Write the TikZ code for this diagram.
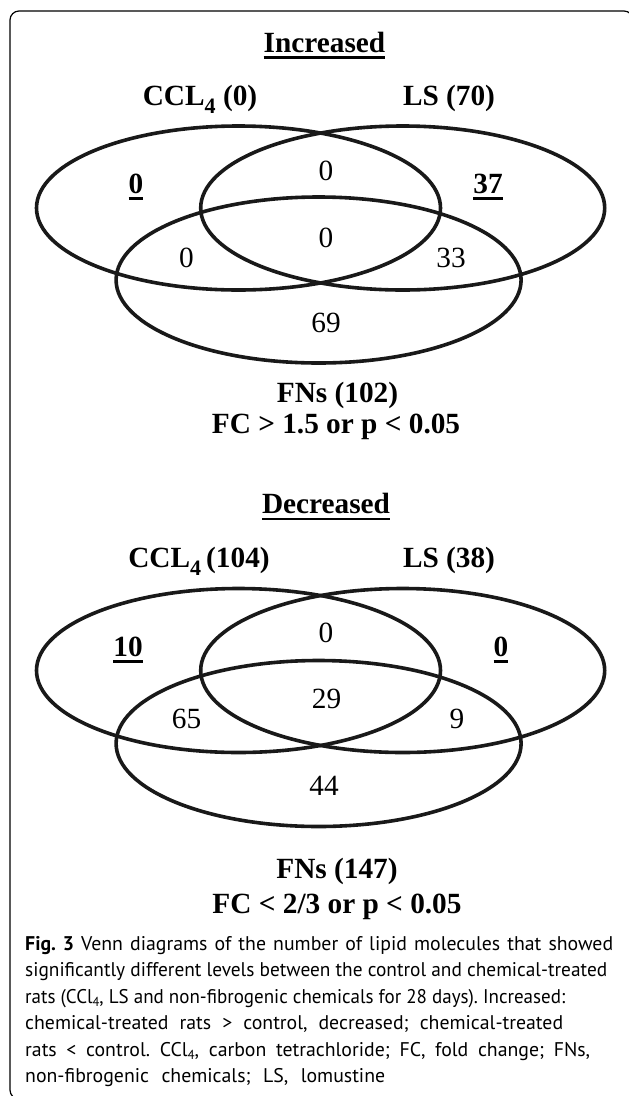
\documentclass[tikz,border=0pt]{standalone}
\usepackage{fontspec}
\setmainfont{Liberation Serif}
\newfontfamily\capfont{PT Sans}
\newcommand\ulx[1]{\setbox0\hbox{#1}\rlap{\vrule height -4.2pt depth 6.9pt width \wd0}\box0}
\newcommand\sfour{\raisebox{-8pt}{\fontsize{22}{22}\selectfont 4}}
\newcommand\csub{\raisebox{-3pt}{\fontsize{13}{13}\selectfont 4}}
\newcommand\capline[2]{\setbox0\hbox{#2}\ifdim\wd0>#1\resizebox{#1}{\height}{\box0}\else\hbox to #1{#2}\fi}
\frenchspacing
\begin{document}
\begin{tikzpicture}[x=1pt,y=-1pt,
  venn/.style={line width=3.6pt, black!90},
  lbl/.style={font=\fontsize{29.3}{32}\selectfont\bfseries, inner sep=0, anchor=base},
  num/.style={font=\fontsize{29.3}{32}\selectfont, inner sep=0, anchor=base},
  bnum/.style={font=\fontsize{29.3}{32}\selectfont\bfseries, inner sep=0, anchor=base},
  captxt/.style={font=\capfont\fontsize{19.8}{22}\selectfont\frenchspacing, inner sep=0, anchor=base west}]
\useasboundingbox (0,0) rectangle (629,1096);
\draw[line width=1.2pt, rounded corners=9pt] (10,11) rectangle (633,1099);
% ---------- Increased ----------
\node[lbl] (t1) at (324.5,52) {\ulx{Increased}};
\node[lbl] (a1) at (200,105) {CCL\sfour{} (0)};
\node[lbl] (b1) at (449,105) {LS (70)};
\draw[venn] (238.5,208) ellipse [x radius=202, y radius=82];
\draw[venn] (402.7,208) ellipse [x radius=202, y radius=82];
\draw[venn] (318.6,280) ellipse [x radius=202.5, y radius=83];
\node[bnum] (n11) at (136,193) {\ulx{0}};
\node[num] (n12) at (326,180) {0};
\node[bnum] (n13) at (488,193) {\ulx{37}};
\node[num] (n14) at (326,247) {0};
\node[num] (n15) at (186.5,267) {0};
\node[num] (n16) at (451,267) {33};
\node[num] (n17) at (326,332) {69};
\node[lbl] (f1) at (337.5,402) {FNs (102)};
\node[lbl] (c1) at (336,433) {FC > 1.5 or p < 0.05};
% ---------- Decreased ----------
\node[lbl] (t2) at (326,513.5) {\ulx{Decreased}};
\node[lbl] (a2) at (199,567) {CCL\sfour\hspace{5pt}(104)};
\node[lbl] (b2) at (449,567) {LS (38)};
\draw[venn] (238.5,670.5) ellipse [x radius=202, y radius=82];
\draw[venn] (402.7,670.5) ellipse [x radius=202, y radius=82];
\draw[venn] (318.6,743.5) ellipse [x radius=202.5, y radius=83];
\node[bnum] (n21) at (128,656) {\ulx{10}};
\node[num] (n22) at (326,642) {0};
\node[bnum] (n23) at (501,656) {\ulx{0}};
\node[num] (n24) at (326.6,708) {29};
\node[num] (n25) at (186.5,728) {65};
\node[num] (n26) at (457,728) {9};
\node[num] (n27) at (324,795) {44};
\node[lbl] (f2) at (337,878) {FNs (147)};
\node[lbl] (c2) at (337,913) {FC < 2/3 or p < 0.05};
% ---------- caption ----------
\node[captxt] (l1) at (25,950) {\capline{588pt}{\textbf{Fig. 3} Venn diagrams of the number of lipid molecules that showed}};
\node[captxt] (l2) at (25,976.5) {\capline{582pt}{significantly different levels between the control and chemical-treated}};
\node[captxt] (l3) at (25,1003) {\capline{540pt}{rats (CCl\csub, LS and non-fibrogenic chemicals for 28 days). Increased:}};
\node[captxt] (l4) at (25,1029.5) {\capline{538pt}{chemical-treated rats > control, decreased; chemical-treated}};
\node[captxt] (l5) at (25,1056) {\capline{565pt}{rats < control. CCl\csub, carbon tetrachloride; FC, fold change; FNs,}};
\node[captxt] (l6) at (25,1082.5) {\capline{360pt}{non-fibrogenic chemicals; LS, lomustine}};
\end{tikzpicture}
\end{document}
